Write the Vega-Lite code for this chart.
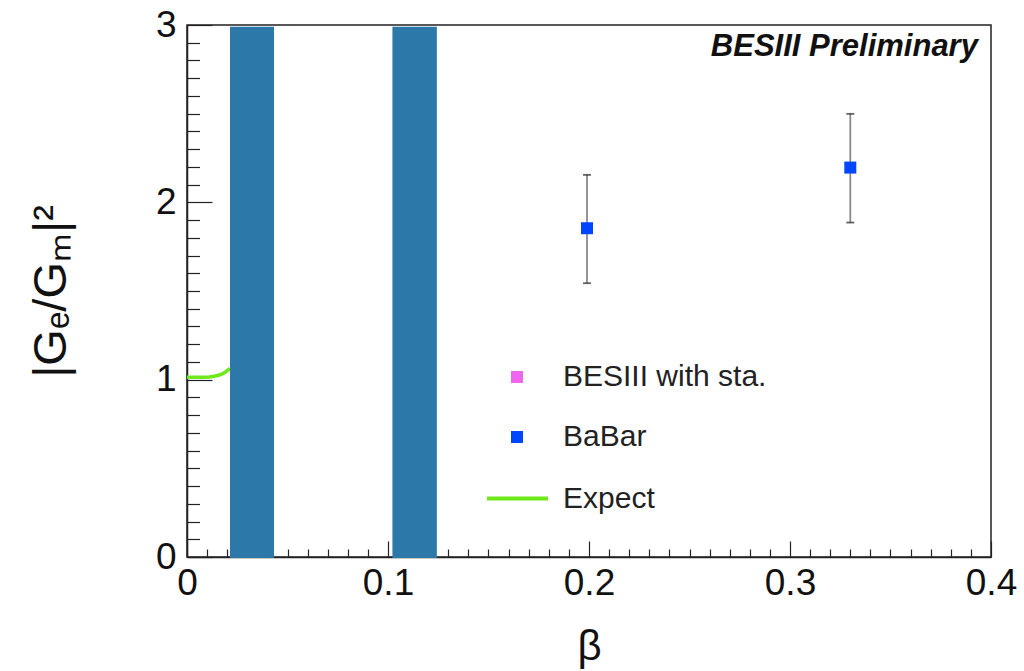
{
  "$schema": "https://vega.github.io/schema/vega-lite/v6.json",
  "width": 804,
  "height": 532,
  "autosize": {"type": "none"},
  "padding": {"left": 187, "top": 25, "right": 33, "bottom": 114},
  "background": "white",
  "config": {
    "view": {"stroke": "#222", "strokeWidth": 1.5},
    "font": "Liberation Sans",
    "axis": {"grid": false, "domainColor": "#222", "domainWidth": 1.5, "tickColor": "#222", "tickWidth": 1.2, "labelColor": "#111", "titleColor": "#111", "labelFont": "Liberation Sans", "titleFont": "Liberation Sans", "titleFontWeight": "normal"}
  },
  "datasets": {
    "bands": [
      {"start": 0.0214, "end": 0.0433, "bottom": -0.006, "top": 2.99},
      {"start": 0.1022, "end": 0.1243, "bottom": -0.006, "top": 2.99}
    ],
    "expect": [
      {"series": "Expect", "beta": 0.0, "ratio": 1.013},
      {"series": "Expect", "beta": 0.008, "ratio": 1.013},
      {"series": "Expect", "beta": 0.011, "ratio": 1.015},
      {"series": "Expect", "beta": 0.0148, "ratio": 1.022},
      {"series": "Expect", "beta": 0.017, "ratio": 1.03},
      {"series": "Expect", "beta": 0.019, "ratio": 1.042},
      {"series": "Expect", "beta": 0.0214, "ratio": 1.064}
    ],
    "points": [
      {"series": "BaBar", "beta": 0.199, "ratio": 1.854, "lo": 1.544, "hi": 2.155},
      {"series": "BaBar", "beta": 0.330, "ratio": 2.196, "lo": 1.886, "hi": 2.499}
    ],
    "xminor": [
      {"v": 0}
    ],
    "label": [
      {"beta": 0.3935, "ratio": 2.876, "text": "BESIII Preliminary"}
    ]
  },
  "layer": [
    {
      "data": {"name": "expect"},
      "mark": {"type": "line", "strokeWidth": 3.5, "clip": false},
      "encoding": {
        "x": {"field": "beta", "type": "quantitative", "scale": {"domain": [0, 0.4], "nice": false, "zero": false},
          "axis": {"orient": "bottom", "values": [0, 0.1, 0.2, 0.3, 0.4], "labelExpr": "datum.value == 0 ? '0' : format(datum.value, '.1f')", "tickSize": -16, "labelFontSize": 37, "labelPadding": 24, "title": "β", "titleFontSize": 42, "titlePadding": 25, "labelFlush": false, "labelOverlap": false}},
        "y": {"field": "ratio", "type": "quantitative", "scale": {"domain": [0, 3], "nice": false, "zero": false},
          "axis": {"orient": "left", "values": [0, 1, 2, 3], "tickSize": -25, "labelFontSize": 37, "labelPadding": 36, "title": "|Gₑ/Gₘ|²", "titleFontSize": 47, "titlePadding": 80, "labelFlush": false, "labelOverlap": false}},
        "stroke": {"field": "series", "type": "nominal",
          "scale": {"domain": ["Expect"], "range": ["#6fe81c"]},
          "legend": {"orient": "none", "legendX": 298, "legendY": 441, "title": null, "labelFontSize": 30, "labelFont": "Liberation Sans", "labelColor": "#222", "labelOffset": 13, "labelLimit": 0, "padding": 0, "symbolType": "stroke", "symbolSize": 3721, "symbolStrokeWidth": 4, "symbolOpacity": 1}}
      }
    },
    {
      "data": {"name": "xminor"},
      "mark": {"type": "point", "opacity": 0},
      "encoding": {
        "x": {"field": "v", "type": "quantitative",
          "axis": {"orient": "bottom", "values": [0.01,0.02,0.03,0.04,0.05,0.06,0.07,0.08,0.09,0.11,0.12,0.13,0.14,0.15,0.16,0.17,0.18,0.19,0.21,0.22,0.23,0.24,0.25,0.26,0.27,0.28,0.29,0.31,0.32,0.33,0.34,0.35,0.36,0.37,0.38,0.39], "tickSize": -8, "labels": false, "domain": false, "title": null}},
        "y": {"field": "v", "type": "quantitative",
          "axis": {"orient": "left", "values": [0.1,0.2,0.3,0.4,0.5,0.6,0.7,0.8,0.9,1.1,1.2,1.3,1.4,1.5,1.6,1.7,1.8,1.9,2.1,2.2,2.3,2.4,2.5,2.6,2.7,2.8,2.9], "tickSize": -12.5, "labels": false, "domain": false, "title": null}}
      }
    },
    {
      "data": {"name": "bands"},
      "mark": {"type": "rect", "color": "#2c78a8", "clip": false},
      "encoding": {
        "x": {"field": "start", "type": "quantitative", "axis": null},
        "x2": {"field": "end"},
        "y": {"field": "bottom", "type": "quantitative", "axis": null},
        "y2": {"field": "top"}
      }
    },
    {
      "data": {"name": "points"},
      "mark": {"type": "rule", "color": "#8a8a8a", "strokeWidth": 1.8},
      "encoding": {
        "x": {"field": "beta", "type": "quantitative", "axis": null},
        "y": {"field": "lo", "type": "quantitative", "axis": null},
        "y2": {"field": "hi"}
      }
    },
    {
      "data": {"name": "points"},
      "mark": {"type": "tick", "orient": "horizontal", "color": "#222", "size": 8, "thickness": 1.8},
      "encoding": {
        "x": {"field": "beta", "type": "quantitative", "axis": null},
        "y": {"field": "lo", "type": "quantitative", "axis": null}
      }
    },
    {
      "data": {"name": "points"},
      "mark": {"type": "tick", "orient": "horizontal", "color": "#222", "size": 8, "thickness": 1.8},
      "encoding": {
        "x": {"field": "beta", "type": "quantitative", "axis": null},
        "y": {"field": "hi", "type": "quantitative", "axis": null}
      }
    },
    {
      "data": {"name": "points"},
      "mark": {"type": "point", "filled": true, "opacity": 1, "shape": "square", "size": 144, "strokeWidth": 0},
      "encoding": {
        "x": {"field": "beta", "type": "quantitative", "axis": null},
        "y": {"field": "ratio", "type": "quantitative", "axis": null},
        "fill": {"field": "series", "type": "nominal",
          "scale": {"domain": ["BESIII with sta.", "BaBar"], "range": ["#ee66ee", "#0046ff"]},
          "legend": {"orient": "none", "legendX": 315, "legendY": 337, "title": null, "labelFontSize": 30, "labelFont": "Liberation Sans", "labelColor": "#222", "labelOffset": 31, "labelLimit": 0, "rowPadding": 30, "padding": 0, "symbolType": "square", "symbolSize": 144, "symbolStrokeWidth": 0, "symbolOpacity": 1}}
      }
    },
    {
      "data": {"name": "label"},
      "mark": {"type": "text", "align": "right", "baseline": "middle", "font": "Liberation Sans", "fontSize": 31, "fontWeight": "bold", "fontStyle": "italic", "color": "#111"},
      "encoding": {
        "x": {"field": "beta", "type": "quantitative", "axis": null},
        "y": {"field": "ratio", "type": "quantitative", "axis": null},
        "text": {"field": "text"}
      }
    }
  ],
  "resolve": {"axis": {"x": "independent", "y": "independent"}}
}
